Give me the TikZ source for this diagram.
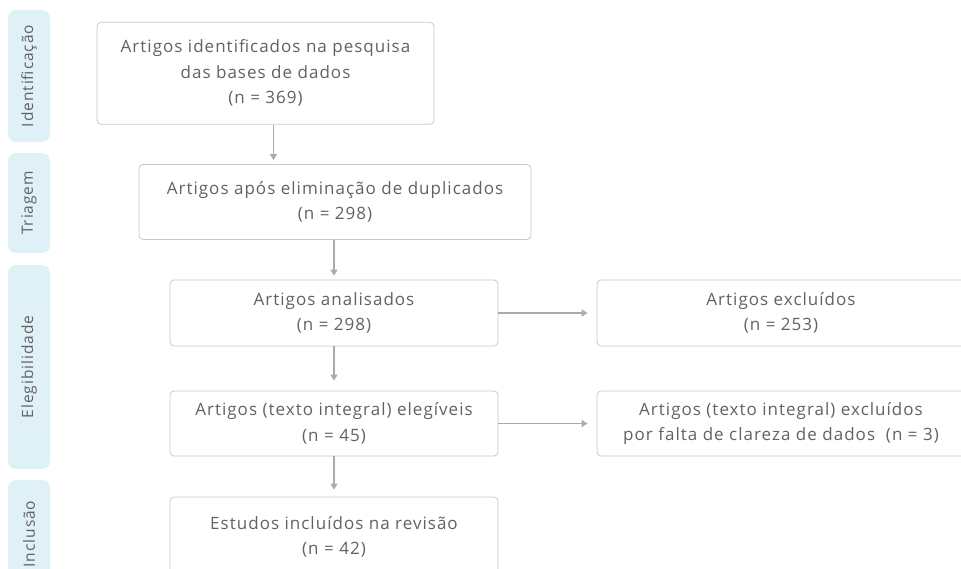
\documentclass[tikz,border=0pt]{standalone}
\usepackage{fontspec}
\setmainfont{Open Sans}[LetterSpace=6]
\usepackage{tikz}
\usetikzlibrary{arrows.meta}

\definecolor{tabblue}{RGB}{223,240,247}
\definecolor{boxline}{RGB}{200,200,200}
\definecolor{txtgray}{RGB}{98,98,98}
\definecolor{arrgray}{RGB}{170,170,170}

\begin{document}
\begin{tikzpicture}[x=1pt,y=-1pt,
  stage/.style={fill=tabblue, rounded corners=8pt, minimum width=42pt, inner sep=0pt},
  stagetext/.style={rotate=90, text=txtgray, font=\fontsize{15.5}{18}\selectfont},
  flowbox/.style={draw=boxline, line width=0.8pt, rounded corners=4pt, fill=white, text=txtgray,
    align=center, inner sep=0pt, font=\fontsize{17}{25.5}\selectfont},
  flow/.style={draw=arrgray, line width=1.2pt, -{Triangle[length=6pt,width=7pt]}}]
  \useasboundingbox (0,0) rectangle (961,569);
  \node[stage, minimum height=132pt] (tabid) at (29,76) {};
  \node[stage, minimum height=100pt] (tabtr) at (29,203) {};
  \node[stage, minimum height=204pt] (tabel) at (29,367) {};
  \node[stage, minimum height=108pt] (tabin) at (29,534) {};
  \node[stagetext] at (tabid) {Identificação};
  \node[stagetext] at (tabtr) {Triagem};
  \node[stagetext] at (tabel) {Elegibilidade};
  \node[stagetext] at (tabin) {Inclusão};

  \node[flowbox, minimum width=337pt, minimum height=102pt] (ident) at (265.5,73.3)
    {Artigos identificados na pesquisa\\das bases de dados\\(n = 369)};
  \node[flowbox, minimum width=392pt, minimum height=75pt] (dupl) at (335,202)
    {Artigos após eliminação de duplicados\\(n = 298)};
  \node[flowbox, minimum width=328pt, minimum height=66pt] (anal) at (334,313)
    {Artigos analisados\\(n = 298)};
  \node[flowbox, minimum width=368pt, minimum height=66pt] (excl) at (781,313)
    {Artigos excluídos\\(n = 253)};
  \node[flowbox, minimum width=328pt, minimum height=65pt] (eleg) at (334,423.5)
    {Artigos (texto integral) elegíveis\\(n = 45)};
  \node[flowbox, minimum width=368pt, minimum height=65pt] (exclb) at (781,423.5)
    {Artigos (texto integral) excluídos\\por falta de clareza de dados~ (n = 3)};
  \node[flowbox, minimum width=328pt, minimum height=80pt] (incl) at (334,537)
    {Estudos incluídos na revisão\\(n = 42)};

  \path
  ([xshift=8pt]ident.south) edge[flow] ([xshift=8pt,yshift=4pt]ident.south |- dupl.north)
  (dupl.south -| anal.north) edge[flow] ([yshift=4pt]anal.north)
  (anal.south) edge[flow] ([yshift=10pt]eleg.north)
  (eleg.south) edge[flow] ([yshift=7pt]incl.north)
  (anal.east) edge[flow] ([xshift=-9pt]excl.west)
  (eleg.east) edge[flow] ([xshift=-9pt]exclb.west)
  ;
\end{tikzpicture}
\end{document}
